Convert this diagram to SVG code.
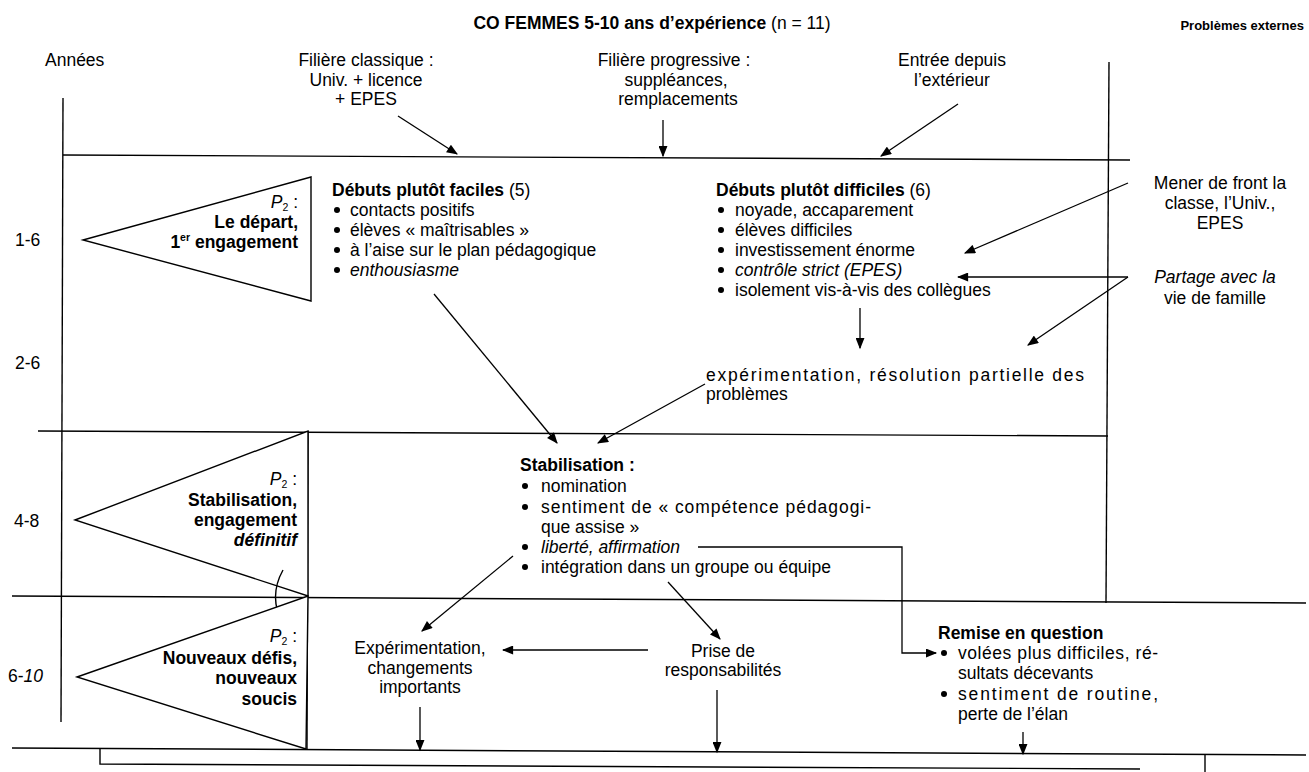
<svg xmlns="http://www.w3.org/2000/svg" width="1309" height="772" viewBox="0 0 1309 772">
<defs>
<marker id="ah" viewBox="0 0 10 8" refX="9" refY="4" markerWidth="12" markerHeight="9" markerUnits="userSpaceOnUse" orient="auto">
<path d="M0,0 L10,4 L0,8 Z" fill="#000"/>
</marker>
<style>
text{font-family:"Liberation Sans",Arial,sans-serif;font-size:17.5px;fill:#000}
text.pe{font-size:13px}
.b{font-weight:bold}
.i{font-style:italic}
.m{text-anchor:middle}
.e{text-anchor:end}
.ln{stroke:#000;stroke-width:1.4;fill:none}
.ar{stroke:#000;stroke-width:1.3;fill:none;marker-end:url(#ah)}
.tri{stroke:#000;stroke-width:1.4;fill:#fff}
</style>
</defs>
<rect width="1309" height="772" fill="#fff"/>

<g id="frame">
<line class="ln" x1="63" y1="98" x2="61" y2="722"/>
<line class="ln" x1="63" y1="155" x2="1130" y2="160"/>
<line class="ln" x1="1109" y1="62" x2="1106" y2="603"/>
<line class="ln" x1="38" y1="431" x2="1108" y2="436"/>
<line class="ln" x1="12" y1="596" x2="1306" y2="603"/>
<line class="ln" x1="12" y1="748" x2="1306" y2="755"/>
<polyline class="ln" points="100,748 100,764 1140,769"/>
<line class="ln" x1="1205" y1="754" x2="1205" y2="772"/>
<line class="ln" x1="308" y1="431" x2="307" y2="749"/>
</g>

<g id="header">
<text x="652" y="29" class="m"><tspan class="b">CO FEMMES 5-10 ans d’expérience</tspan> (n = 11)</text>
<text x="1304" y="30" class="b e pe">Problèmes externes</text>
<text x="45" y="66">Années</text>
</g>

<g id="filiere-classique">
<text x="366" y="66" class="m">Filière classique :</text>
<text x="366" y="86" class="m">Univ. + licence</text>
<text x="366" y="105" class="m">+ EPES</text>
</g>
<g id="filiere-progressive">
<text x="674" y="66" class="m">Filière progressive :</text>
<text x="676" y="86" class="m">suppléances,</text>
<text x="678" y="105" class="m">remplacements</text>
</g>
<g id="entree">
<text x="952" y="66" class="m">Entrée depuis</text>
<text x="952" y="86" class="m">l’extérieur</text>
</g>

<g id="years">
<text x="15" y="246">1-6</text>
<text x="15" y="369">2-6</text>
<text x="14" y="527">4-8</text>
<text x="8" y="682">6-<tspan class="i">10</tspan></text>
</g>

<g id="phase1">
<polygon class="tri" points="83,240 311,177 311,301"/>
<text x="298" y="208" class="e"><tspan class="i">P</tspan><tspan font-size="10.5" dy="3">2</tspan><tspan dy="-3"> :</tspan></text>
<text x="298" y="228" class="e b">Le départ,</text>
<text x="298" y="248" class="e b">1<tspan font-size="10.5" dy="-7">er</tspan><tspan dy="7"> engagement</tspan></text>
</g>

<g id="phase2">
<polygon class="tri" points="75,520 308,431 308,596"/>
<text x="297" y="485" class="e"><tspan class="i">P</tspan><tspan font-size="10.5" dy="3">2</tspan><tspan dy="-3"> :</tspan></text>
<text x="297" y="506" class="e b">Stabilisation,</text>
<text x="297" y="526" class="e b">engagement</text>
<text x="297" y="546" class="e b i">définitif</text>
<path class="ln" d="M283,570 Q268,597 283,624"/>
</g>

<g id="phase3">
<polygon class="tri" points="77,677 308,596 306,749"/>
<text x="297" y="642" class="e"><tspan class="i">P</tspan><tspan font-size="10.5" dy="3">2</tspan><tspan dy="-3"> :</tspan></text>
<text x="297" y="664" class="e b">Nouveaux défis,</text>
<text x="297" y="684" class="e b">nouveaux</text>
<text x="297" y="705" class="e b">soucis</text>
</g>

<g id="debuts-faciles">
<text x="332" y="196"><tspan class="b">Débuts plutôt faciles</tspan> (5)</text>
<circle cx="337" cy="210" r="3"/><text x="350" y="216">contacts positifs</text>
<circle cx="337" cy="230" r="3"/><text x="350" y="236">élèves « maîtrisables »</text>
<circle cx="337" cy="250" r="3"/><text x="350" y="256">à l’aise sur le plan pédagogique</text>
<circle cx="337" cy="270" r="3"/><text x="350" y="276" class="i">enthousiasme</text>
</g>

<g id="debuts-difficiles">
<text x="716" y="196"><tspan class="b">Débuts plutôt difficiles</tspan> (6)</text>
<circle cx="721" cy="210" r="3"/><text x="735" y="216">noyade, accaparement</text>
<circle cx="721" cy="230" r="3"/><text x="735" y="236">élèves difficiles</text>
<circle cx="721" cy="250" r="3"/><text x="735" y="256">investissement énorme</text>
<circle cx="721" cy="270" r="3"/><text x="735" y="276" class="i">contrôle strict (EPES)</text>
<circle cx="721" cy="290" r="3"/><text x="735" y="296">isolement vis-à-vis des collègues</text>
</g>

<g id="mener">
<text x="1220" y="189" class="m">Mener de front la</text>
<text x="1220" y="209" class="m">classe, l’Univ.,</text>
<text x="1220" y="229" class="m">EPES</text>
</g>
<g id="partage">
<text x="1215" y="283" class="m i">Partage avec la</text>
<text x="1215" y="304" class="m">vie de famille</text>
</g>

<g id="experimentation-partielle">
<text x="706" y="381" textLength="378" lengthAdjust="spacing">expérimentation, résolution partielle des</text>
<text x="706" y="400">problèmes</text>
</g>

<g id="stabilisation">
<text x="520" y="471" class="b">Stabilisation :</text>
<circle cx="525" cy="486" r="3"/><text x="541" y="492">nomination</text>
<circle cx="525" cy="507" r="3"/><text x="541" y="513" textLength="330" lengthAdjust="spacing">sentiment de « compétence pédagogi-</text>
<text x="541" y="533">que assise »</text>
<circle cx="525" cy="547" r="3"/><text x="541" y="553" class="i">liberté, affirmation</text>
<circle cx="525" cy="567" r="3"/><text x="541" y="573">intégration dans un groupe ou équipe</text>
</g>

<g id="experimentation">
<text x="420" y="654" class="m">Expérimentation,</text>
<text x="420" y="674" class="m">changements</text>
<text x="420" y="693" class="m">importants</text>
</g>
<g id="prise">
<text x="723" y="657" class="m">Prise de</text>
<text x="723" y="676" class="m">responsabilités</text>
</g>

<g id="remise">
<text x="938" y="639" class="b">Remise en question</text>
<circle cx="944" cy="653" r="3"/><text x="958" y="659" textLength="200" lengthAdjust="spacing">volées plus difficiles, ré-</text>
<text x="958" y="679">sultats décevants</text>
<circle cx="944" cy="694" r="3"/><text x="958" y="700" textLength="200" lengthAdjust="spacing">sentiment de routine,</text>
<text x="958" y="720">perte de l’élan</text>
</g>

<g id="connectors">
<line class="ar" x1="398" y1="116" x2="457" y2="154"/>
<line class="ar" x1="663" y1="120" x2="663" y2="156"/>
<line class="ar" x1="958" y1="104" x2="881" y2="156"/>
<line class="ar" x1="1128" y1="183" x2="965" y2="253"/>
<line class="ar" x1="1128" y1="277" x2="958" y2="277"/>
<line class="ar" x1="1128" y1="277" x2="1028" y2="345"/>
<line class="ar" x1="860" y1="308" x2="860" y2="348"/>
<line class="ar" x1="434" y1="294" x2="557" y2="443"/>
<line class="ar" x1="705" y1="384" x2="598" y2="443"/>
<line class="ar" x1="513" y1="556" x2="422" y2="631"/>
<line class="ar" x1="668" y1="582" x2="720" y2="639"/>
<line class="ar" x1="648" y1="650" x2="503" y2="650"/>
<polyline class="ar" points="698,547 902,547 902,653 936,653"/>
<line class="ar" x1="420" y1="707" x2="420" y2="750"/>
<line class="ar" x1="717" y1="690" x2="717" y2="752"/>
<line class="ar" x1="1023" y1="732" x2="1023" y2="754"/>
</g>
</svg>
